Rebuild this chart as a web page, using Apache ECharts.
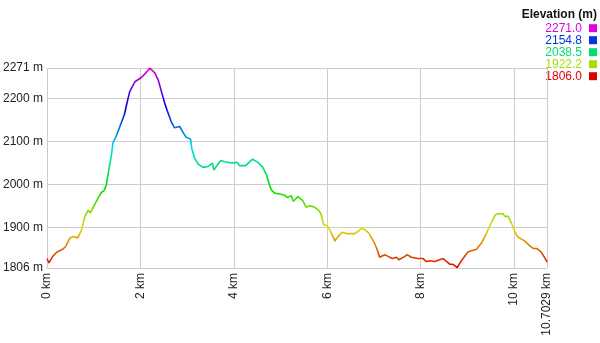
<!DOCTYPE html>
<html>
<head>
<meta charset="utf-8">
<script src="https://cdn.jsdelivr.net/npm/echarts@6/dist/echarts.min.js"></script>
<style>
html,body{margin:0;padding:0;background:#fff;}
#chart{width:600px;height:343px;}
</style>
</head>
<body>
<div id="chart"></div>
<script>
// ---- data ----
const distanceKm = [0.00,0.04,0.13,0.20,0.34,0.40,0.49,0.56,0.66,0.74,0.81,0.88,0.93,0.98,1.09,1.16,1.22,1.27,1.31,1.34,1.38,1.41,1.49,1.56,1.66,1.71,1.77,1.88,2.02,2.11,2.20,2.31,2.38,2.45,2.52,2.57,2.66,2.73,2.84,2.88,2.93,2.98,3.07,3.10,3.15,3.23,3.34,3.45,3.54,3.57,3.63,3.72,3.80,3.95,4.02,4.07,4.12,4.25,4.40,4.52,4.62,4.70,4.75,4.80,4.87,4.98,5.09,5.14,5.23,5.27,5.37,5.47,5.55,5.62,5.73,5.82,5.87,5.92,6.01,6.07,6.16,6.23,6.32,6.41,6.59,6.66,6.73,6.80,6.89,7.01,7.08,7.12,7.23,7.30,7.39,7.48,7.53,7.66,7.71,7.80,7.94,8.05,8.12,8.19,8.30,8.48,8.62,8.70,8.78,8.87,9.01,9.08,9.19,9.30,9.40,9.51,9.60,9.67,9.76,9.80,9.87,9.94,10.01,10.08,10.22,10.33,10.40,10.49,10.58,10.69,10.7029];
const elevationM = [1828,1818,1834,1842,1850,1856,1876,1879,1876,1895,1926,1940,1934,1945,1968,1981,1986,1999,2026,2045,2069,2096,2115,2135,2164,2189,2216,2239,2249,2259,2271,2259,2243,2216,2189,2173,2146,2132,2135,2136,2118,2110,2106,2084,2064,2048,2040,2042,2050,2034,2043,2056,2053,2050,2051,2052,2044,2044,2059,2051,2040,2022,2003,1988,1980,1978,1975,1970,1974,1961,1972,1963,1947,1951,1947,1940,1930,1907,1903,1891,1869,1879,1889,1886,1886,1891,1899,1895,1887,1864,1845,1831,1837,1833,1828,1831,1825,1833,1837,1831,1828,1828,1821,1823,1821,1828,1815,1814,1807,1823,1843,1846,1849,1864,1885,1911,1930,1932,1932,1926,1926,1911,1891,1878,1869,1858,1852,1851,1843,1823,1820];
const xTicks = [0, 2, 4, 6, 8, 10, 10.7029];
const yTicks = [1806, 1900, 2000, 2100, 2200, 2271];
const legendTitle = 'Elevation (m)';
const legendValues = [2271.0, 2154.8, 2038.5, 1922.2, 1806.0];

const eMin = 1806, eMax = 2271;

function hsv(h, s, v) {
  const c = v * s, hp = h / 60, x = c * (1 - Math.abs(hp % 2 - 1));
  let r = 0, g = 0, b = 0;
  if (hp < 1) { r = c; g = x; } else if (hp < 2) { r = x; g = c; }
  else if (hp < 3) { g = c; b = x; } else if (hp < 4) { g = x; b = c; }
  else if (hp < 5) { r = x; b = c; } else { r = c; b = x; }
  const m = v - c;
  const t = n => Math.round((n + m) * 255).toString(16).padStart(2, '0');
  return '#' + t(r) + t(g) + t(b);
}
function colorFor(val) {
  return hsv(300 * (val - eMin) / (eMax - eMin), 1, 0.87);
}
const rampColors = [];
for (let h = 0; h <= 300; h += 15) rampColors.push(hsv(h, 1, 0.87));

const seriesData = distanceKm.map((d, i) => [d, elevationM[i]]);

const FONT = '"Liberation Sans", Arial, sans-serif';
const graphics = [{
  type: 'text', right: 3, top: 9,
  style: { text: legendTitle, font: 'bold 12px ' + FONT, fill: '#111' }
}];
legendValues.forEach((v, i) => {
  const cy = 28.2 + 12 * i;
  graphics.push({
    type: 'text', x: 582, y: cy,
    style: { text: v.toFixed(1), font: '12px ' + FONT, fill: colorFor(v), align: 'right', verticalAlign: 'middle' }
  });
  graphics.push({
    type: 'rect', shape: { x: 589, y: cy - 4, width: 8, height: 8 },
    style: { fill: colorFor(v) }
  });
});

const chart = echarts.init(document.getElementById('chart'), null, { renderer: 'canvas' });
chart.setOption({
  backgroundColor: '#fff',
  animation: false,
  grid: { left: 47, right: 53, top: 68, bottom: 75, containLabel: false },
  xAxis: {
    type: 'value', min: 0, max: 10.7029,
    axisLine: { show: false },
    axisTick: { show: false, customValues: xTicks },
    splitLine: { show: true, lineStyle: { color: '#cccccc', width: 1 } },
    axisLabel: {
      customValues: xTicks, rotate: 90, margin: 5,
      fontSize: 12, fontFamily: FONT, color: '#222',
      formatter: v => v + ' km'
    }
  },
  yAxis: {
    type: 'value', min: eMin, max: eMax,
    axisLine: { show: false },
    axisTick: { show: false, customValues: yTicks },
    splitLine: { show: true, lineStyle: { color: '#cccccc', width: 1 } },
    axisLabel: {
      customValues: yTicks, margin: 4,
      fontSize: 12, fontFamily: FONT, color: '#222',
      formatter: v => v + ' m'
    }
  },
  visualMap: {
    show: false, type: 'continuous', min: eMin, max: eMax, dimension: 1,
    inRange: { color: rampColors }
  },
  graphic: graphics,
  series: [{
    type: 'line', data: seriesData, showSymbol: false, symbol: 'none',
    lineStyle: { width: 1.6 }
  }]
});
</script>
</body>
</html>
